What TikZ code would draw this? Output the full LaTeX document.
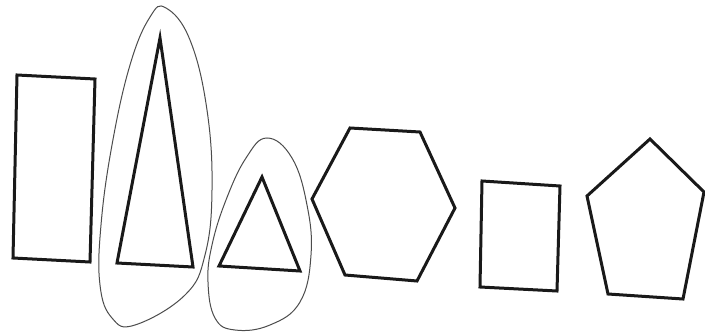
\documentclass[tikz,border=0pt]{standalone}
\begin{document}
\begin{tikzpicture}[x=1pt,y=-1pt,
  shapeline/.style={draw=black!90,line width=3pt,line join=miter},
  loopline/.style={draw=black!70,line width=1pt}]
\useasboundingbox[fill=white] (0,0) rectangle (705,334);
% rectangle
\draw[shapeline] (17,75) -- (95,79) -- (90,262) -- (13,258) -- cycle;
% tall triangle
\draw[shapeline] (160,38) -- (193,267) -- (117,263) -- cycle;
% loop around tall triangle
\draw[loopline] plot[smooth cycle,tension=0.7] coordinates
  {(166,8) (190,40) (207,110) (212,190) (205,255) (185,295) (135,325) (112,318) (100,285) (101,225) (112,145) (130,65) (150,17)};
% small triangle
\draw[shapeline] (262,177) -- (300,271) -- (219,266) -- cycle;
% loop around small triangle
\draw[loopline] plot[smooth cycle,tension=0.7] coordinates
  {(267,138) (292,158) (307,205) (311,255) (300,302) (270,325) (235,330) (215,318) (208,282) (212,245) (226,200) (246,158)};
% hexagon
\draw[shapeline] (350,128) -- (420,132) -- (455,208) -- (417,281) -- (345,275) -- (312,199) -- cycle;
% small rectangle
\draw[shapeline] (482,181) -- (560,186) -- (557,291) -- (480,287) -- cycle;
% pentagon
\draw[shapeline] (650,139) -- (704,192) -- (683,299) -- (608,294) -- (587,196) -- cycle;
\end{tikzpicture}
\end{document}
